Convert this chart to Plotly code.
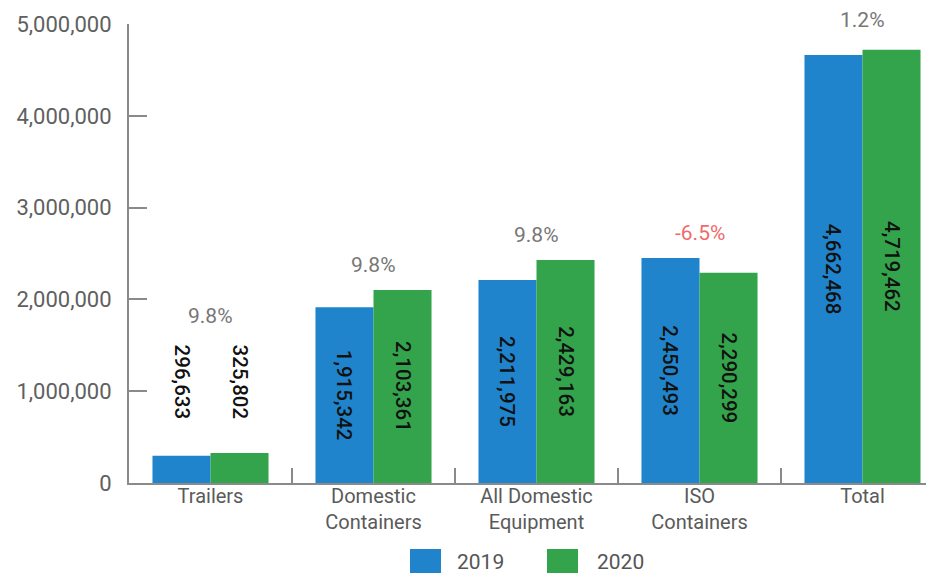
import plotly.graph_objects as go

categories = ["Trailers", "Domestic<br>Containers", "All Domestic<br>Equipment", "ISO<br>Containers", "Total"]
values_2019 = [296633, 1915342, 2211975, 2450493, 4662468]
values_2020 = [325802, 2103361, 2429163, 2290299, 4719462]
series_names = ["2019", "2020"]
y_ticks = [0, 1000000, 2000000, 3000000, 4000000, 5000000]

BLUE = "#1f84cb"
GREEN = "#33a44b"
FONT = "Roboto"

# the page body adds an 8px margin; compensate so the plot lands where the reference has it
OFF = 8
W, H = 934 - OFF, 573 - OFF
ML, MT, MB = 129 - OFF, 24 - OFF, 90
plot_w = W - ML
plot_h = H - MT - MB
BOTTOM_PX = 483  # page y of the x axis


def px_x(px):
    return (px - OFF - ML) / plot_w


def px_y(py):
    return (BOTTOM_PX - py) / plot_h


fig = go.Figure()
for name, vals, col in [(series_names[0], values_2019, BLUE), (series_names[1], values_2020, GREEN)]:
    fig.add_trace(go.Bar(
        x=categories, y=vals, name=name, marker=dict(color=col, line=dict(width=0)),
        text=["" if i == 0 else f"{v:,}" for i, v in enumerate(vals)],
        textposition=["none" if i == 0 else "inside" for i in range(len(vals))],
        insidetextanchor="middle", textangle=90,
        textfont=dict(family=FONT, size=20.5, color="#111111", weight=500),
        showlegend=False, cliponaxis=False,
    ))

annotations = []
# outside labels for the small Trailers group
tmax = max(values_2019[0], values_2020[0])
for vals, xs in [(values_2019, -29), (values_2020, 29)]:
    annotations.append(dict(x=categories[0], y=tmax, text=f"{vals[0]:,}", showarrow=False,
                            textangle=90, xshift=xs, yshift=71, yanchor="middle",
                            font=dict(family=FONT, size=20.5, color="#111111", weight=500)))

# percentage change labels
for i, c in enumerate(categories):
    a, b = values_2019[i], values_2020[i]
    pct = (b - a) / a * 100
    top = max(a, b)
    shift = 137 if i == 0 else (30 if i == 4 else 25)
    annotations.append(dict(x=c, y=top, text=f"{pct:.1f}%", showarrow=False, yshift=shift,
                            yanchor="middle",
                            font=dict(family=FONT, size=21, color="#f06a6a" if pct < 0 else "#777777")))

# custom legend
shapes = []
for name, col, x0, tx in [(series_names[0], BLUE, 410, 455), (series_names[1], GREEN, 547, 595)]:
    shapes.append(dict(type="rect", xref="paper", yref="paper", x0=px_x(x0), x1=px_x(x0 + 31),
                       y0=px_y(549), y1=px_y(585), fillcolor=col, line=dict(width=0), layer="above"))
    annotations.append(dict(xref="paper", yref="paper", x=px_x(tx), y=px_y(562), text=name,
                            showarrow=False, xanchor="left", yanchor="middle",
                            font=dict(family=FONT, size=21, color="#555555")))

fig.update_layout(
    width=W, height=H,
    margin=dict(l=ML, r=0, t=MT, b=MB, autoexpand=False),
    plot_bgcolor="white", paper_bgcolor="white",
    barmode="group", bargap=0.288, bargroupgap=0,
    font=dict(family=FONT, size=20, color="#666666"),
    annotations=annotations, shapes=shapes,
)
fig.update_xaxes(
    range=[-0.5, -0.5 + plot_w / 163.0],
    showgrid=False, showline=True, linecolor="#8a8a8a", linewidth=2,
    ticks="inside", ticklen=15, tickwidth=1.5, tickcolor="#8a8a8a", tickson="boundaries",
    tickfont=dict(family=FONT, size=20, color="#5a5a5a"),
    ticklabelstandoff=-6,
    zeroline=False, automargin=False,
)
fig.update_yaxes(
    range=[0, 5000000], tickvals=y_ticks, ticktext=[f"{v:,}" for v in y_ticks],
    showgrid=False, showline=True, linecolor="#8a8a8a", linewidth=2,
    ticks="inside", ticklen=18, tickwidth=1.5, tickcolor="#8a8a8a",
    tickfont=dict(family=FONT, size=22, color="#606060"),
    ticklabelstandoff=11, zeroline=False, automargin=False,
)

fig.write_html("out.html")
